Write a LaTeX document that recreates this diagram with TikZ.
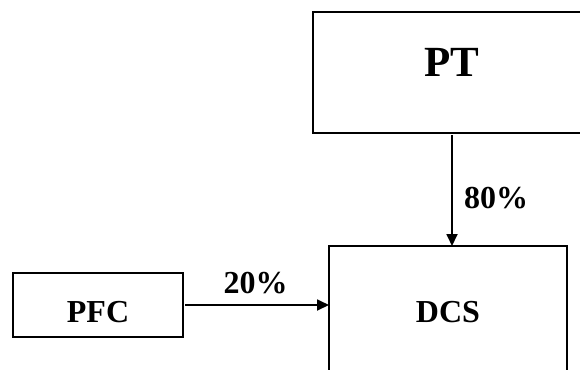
\documentclass[tikz,border=0pt]{standalone}
\usepackage{fontspec}
\setmainfont{Liberation Serif}
\usetikzlibrary{arrows.meta}
\tikzset{
  boxnode/.style={draw=black, line width=1.8pt, inner sep=0pt, outer sep=0pt},
  labeltext/.style={inner sep=0pt, font=\fontsize{32}{36}\selectfont\bfseries},
  conn/.style={line width=1.8pt, -{Triangle[length=12pt,width=11pt]}}
}
\begin{document}
\begin{tikzpicture}[x=1pt,y=-1pt]
\useasboundingbox (0,0) rectangle (580,369);
\clip (0,0) rectangle (580,369);
\fill[white] (0,0) rectangle (580,369);
% boxes
\node[boxnode, minimum width=278pt, minimum height=121pt] (pt) at (452,72.5) {};
\node[boxnode, minimum width=238pt, minimum height=150pt] (dcs) at (448,321) {};
\node[boxnode, minimum width=170pt, minimum height=64pt] (pfc) at (98,305) {};
% texts
\node[inner sep=0pt, font=\fontsize{43}{47}\selectfont\bfseries] (pttext) at (452,62) {PT};
\node[labeltext] (dcstext) at (448,312.5) {DCS};
\node[labeltext] (pfctext) at (98,312.5) {PFC};
\node[labeltext] (eighty) at (496,198.5) {80\%};
\node[labeltext] (twenty) at (255.5,283) {20\%};
% connectors
\draw[conn, shorten <=2pt] (pt.south -| 452,0) -- (dcs.north -| 452,0);
\draw[conn, shorten <=2pt] (pfc.east) -- (dcs.west |- pfc.east);
\end{tikzpicture}
\end{document}
